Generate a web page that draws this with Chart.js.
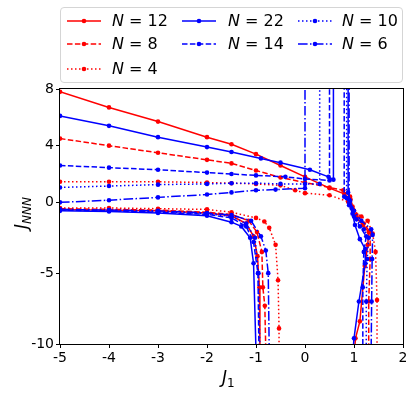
<!DOCTYPE html>
<html><head><meta charset="utf-8">
<script src="https://cdn.jsdelivr.net/npm/chart.js@4/dist/chart.umd.min.js"></script>
<style>
html,body{margin:0;padding:0;background:#fff;}
#wrap{position:relative;width:415px;height:394px;overflow:hidden;}
#c{position:absolute;left:0;top:0;}
#legend{position:absolute;left:60px;top:7px;width:343px;height:76px;border:1px solid #d5d5d5;border-radius:4px;box-sizing:border-box;background:rgba(255,255,255,0.85);font-family:'DejaVu Sans',sans-serif;font-size:16px;color:#000;}
.item{position:absolute;height:22px;}
.item svg{position:absolute;left:0;top:0;}
.item span{position:absolute;top:1px;white-space:nowrap;line-height:20px;}
.xt{position:absolute;font-family:'DejaVu Sans',sans-serif;font-size:17px;color:#000;white-space:nowrap;}
.xt i{font-style:italic;}
.xt sub{font-size:12px;vertical-align:-4px;line-height:0;}
</style></head>
<body>
<div id="wrap">
<canvas id="c" width="415" height="394"></canvas>
<div id="legend"></div>
<div class="xt" id="xtitle" style="left:222px;top:367px;"><i>J</i><sub>1</sub></div>
<div class="xt" id="ytitle" style="left:-14px;top:203px;transform:rotate(-90deg);transform-origin:center center;width:70px;text-align:center;"><i>J</i><sub><i>NNN</i></sub></div>
</div>
<script>
// ---- data ----
const labels = ['N = 12','N = 8','N = 4','N = 22','N = 14','N = 10','N = 6'];
const xTicks = [-5,-4,-3,-2,-1,0,1,2];
const yTicks = [-10,-5,0,4,8];

const n12Upper = [[-5,7.8],[-4,6.7],[-3,5.7],[-2,4.6],[-1.5,4.1],[-1,3.4],[-0.5,2.6],[0,1.8],[0.5,1.0],[0.8,0.6],[0.93,0.2],[0.98,-0.5],[1.05,-1.1],[1.18,-1.6],[1.3,-2.1],[1.28,-3.0],[1.22,-4.5],[1.12,-8.4],[1.03,-9.6],[1.01,-10.5]];
const n12Lower = [[-5,-0.5],[-4,-0.55],[-3,-0.6],[-2,-0.75],[-1.5,-0.95],[-1.2,-1.5],[-1.05,-2.4],[-0.97,-3.8],[-0.93,-6],[-0.92,-10.5]];

const n8Upper = [[-5,4.5],[-4,4.0],[-3,3.5],[-2,3.0],[-1.5,2.75],[-1,2.25],[-0.5,1.75],[0,1.4],[0.5,1.05],[0.78,0.85],[0.92,0.4],[0.97,-0.3],[1.05,-0.9],[1.2,-1.5],[1.33,-2.1],[1.33,-4],[1.3,-7],[1.3,-10.5]];
const n8Lower = [[-5,-0.45],[-4,-0.5],[-3,-0.55],[-2,-0.7],[-1.5,-0.85],[-1.15,-1.3],[-0.98,-2.1],[-0.88,-3.5],[-0.86,-6],[-0.82,-7.3],[-0.8,-10.5]];

const n4Upper = [[-5,1.45],[-4,1.45],[-3,1.45],[-2,1.4],[-1.5,1.35],[-1,1.3],[-0.5,1.2],[-0.2,0.85],[0,0.65],[0.5,0.5],[0.88,0.05],[1.0,-0.6],[1.15,-1.0],[1.28,-1.3],[1.38,-2.2],[1.44,-3.5],[1.47,-6.9],[1.47,-10.5]];
const n4Lower = [[-5,-0.4],[-4,-0.4],[-3,-0.45],[-2,-0.5],[-1.5,-0.7],[-1,-1.1],[-0.83,-1.35],[-0.73,-1.8],[-0.6,-3.0],[-0.55,-5.5],[-0.53,-8.9],[-0.53,-10.5]];

const n22Upper = [[-5,6.1],[-4,5.4],[-3,4.6],[-2,3.9],[-1.5,3.55],[-0.9,3.1],[-0.5,2.8],[0.1,2.3],[0.48,1.8],[0.58,1.6],[0.58,10]];
const n22Right = [[0.88,10],[0.88,0.7],[0.92,0.1],[0.97,-0.8],[1.02,-1.6],[1.12,-2.6],[1.23,-3.3],[1.23,-4.3],[1.1,-7],[1.0,-9.6],[0.98,-10.5]];
const n22Lower = [[-5,-0.6],[-4,-0.65],[-3,-0.75],[-2,-0.95],[-1.5,-1.4],[-1.3,-1.7],[-1.12,-2.5],[-1.05,-4.3],[-1.0,-10.5]];

const n14Upper = [[-5,2.6],[-4,2.45],[-3,2.3],[-2,2.1],[-1.5,2.0],[-1,1.9],[-0.4,1.8],[0,1.65],[0.5,1.55],[0.5,10]];
const n14Right = [[0.8,10],[0.8,0.4],[0.9,-0.2],[1.0,-1.0],[1.12,-1.7],[1.25,-2.4],[1.2,-3.5],[1.18,-6],[1.18,-10.5]];
const n14Lower = [[-5,-0.55],[-4,-0.6],[-3,-0.7],[-2,-0.85],[-1.5,-1.1],[-1.2,-1.7],[-1.05,-2.8],[-0.96,-5],[-0.94,-10.5]];

const n10Upper = [[-5,1.05],[-4,1.15],[-3,1.25],[-2,1.3],[-1.5,1.35],[-1,1.35],[-0.5,1.3],[0,1.3],[0.3,1.3],[0.3,10]];
const n10Right = [[0.85,10],[0.85,0.3],[0.95,-0.4],[1.05,-1.2],[1.2,-1.9],[1.3,-2.5],[1.27,-4],[1.25,-7],[1.25,-10.5]];
const n10Lower = [[-5,-0.5],[-4,-0.55],[-3,-0.65],[-2,-0.8],[-1.5,-1.0],[-1.2,-1.5],[-1.02,-2.5],[-0.95,-5],[-0.92,-10.5]];

const n6Upper = [[-5,0],[-4,0.15],[-3,0.35],[-2,0.55],[-1.5,0.7],[-1,0.85],[-0.6,0.9],[0,1.0],[0,10]];
const n6Right = [[0.9,10],[0.9,0.2],[1.0,-0.6],[1.15,-1.3],[1.35,-1.9],[1.38,-2.3],[1.37,-4],[1.36,-7],[1.35,-10.5]];
const n6Lower = [[-5,-0.5],[-4,-0.55],[-3,-0.6],[-2,-0.75],[-1.5,-0.9],[-1.1,-1.3],[-0.9,-2.4],[-0.8,-3.4],[-0.75,-5],[-0.73,-10.5]];

const seriesSegments = [
  [n12Upper, n12Lower],
  [n8Upper, n8Lower],
  [n4Upper, n4Lower],
  [n22Upper, n22Right, n22Lower],
  [n14Upper, n14Right, n14Lower],
  [n10Upper, n10Right, n10Lower],
  [n6Upper, n6Right, n6Lower]
];

// ---- styles ----
const RED = '#ff0000', BLUE = '#0000ff';
const colors = [RED, RED, RED, BLUE, BLUE, BLUE, BLUE];
const DASHED = [5.5,2.4], DOTTED = [1.5,2.5], DASHDOT = [9.6,2.4,1.5,2.4];
const dashes = [[], DASHED, DOTTED, [], DASHED, DOTTED, DASHDOT];
// legend layout (column-major like the reference)
const legendPos = [[0,0],[0,1],[0,2],[1,0],[1,1],[2,0],[2,1]];

function toPoints(segs){
  const out = [];
  segs.forEach((s,k)=>{
    if(k>0) out.push({x:s[0][0], y:null});
    s.forEach(p=>out.push({x:p[0], y:p[1]}));
  });
  return out;
}

const datasets = seriesSegments.map((segs,i)=>({
  label: labels[i],
  data: toPoints(segs),
  borderColor: colors[i],
  backgroundColor: colors[i],
  borderWidth: 1.5,
  borderDash: dashes[i],
  pointRadius: 2.3,
  pointBorderWidth: 0,
  pointHoverRadius: 0,
  spanGaps: false,
  tension: 0,
  order: 10 - i
}));

const frame = {
  id:'frame',
  afterDraw(chart){
    const a = chart.chartArea, ctx = chart.ctx;
    ctx.save();
    ctx.strokeStyle = '#000'; ctx.lineWidth = 1;
    ctx.strokeRect(Math.round(a.left)-0.5, Math.round(a.top)-0.5, Math.round(a.right-a.left)+1, Math.round(a.bottom-a.top)+1);
    ctx.restore();
  }
};

new Chart(document.getElementById('c'), {
  type:'line',
  data:{datasets},
  options:{
    responsive:false, animation:false, devicePixelRatio:1,
    layout:{padding:{top:89,right:12,left:0,bottom:0}},
    plugins:{legend:{display:false}, tooltip:{enabled:false}},
    scales:{
      x:{type:'linear', min:-5, max:2,
        afterBuildTicks(s){ s.ticks = xTicks.map(v=>({value:v})); },
        afterFit(s){ s.height = 50; },
        ticks:{color:'#000', font:{family:'DejaVu Sans', size:14}, padding:2, callback:v=>String(v), maxRotation:0, autoSkip:false},
        grid:{display:true, drawOnChartArea:false, drawTicks:true, tickLength:4, color:'#000'},
        border:{display:false}},
      y:{type:'linear', min:-10, max:8,
        afterBuildTicks(s){ s.ticks = yTicks.map(v=>({value:v})); },
        afterFit(s){ s.width = 60; },
        ticks:{color:'#000', font:{family:'DejaVu Sans', size:14}, padding:2, callback:v=>String(v), autoSkip:false},
        grid:{display:true, drawOnChartArea:false, drawTicks:true, tickLength:4, color:'#000'},
        border:{display:false}}
    }
  },
  plugins:[frame]
});

// ---- HTML legend ----
const leg = document.getElementById('legend');
const colX = [5, 120, 236], textX = [51, 167, 281], rowY = [2, 25, 50];
labels.forEach((lab,i)=>{
  const [c,r] = legendPos[i];
  const d = document.createElement('div');
  d.className = 'item';
  d.style.left = colX[c]+'px'; d.style.top = rowY[r]+'px';
  const da = dashes[i].length ? `stroke-dasharray="${dashes[i].join(',')}"` : '';
  d.innerHTML = `<svg width="36" height="22"><line x1="1" y1="11" x2="35" y2="11" stroke="${colors[i]}" stroke-width="1.5" ${da}/><circle cx="18" cy="11" r="2.3" fill="${colors[i]}"/></svg>`;
  const sp = document.createElement('span');
  sp.style.left = (textX[c]-colX[c])+'px';
  const parts = lab.split(' = ');
  sp.innerHTML = `<i>${parts[0]}</i> = ${parts[1]}`;
  d.appendChild(sp);
  leg.appendChild(d);
});
</script>
</body></html>
